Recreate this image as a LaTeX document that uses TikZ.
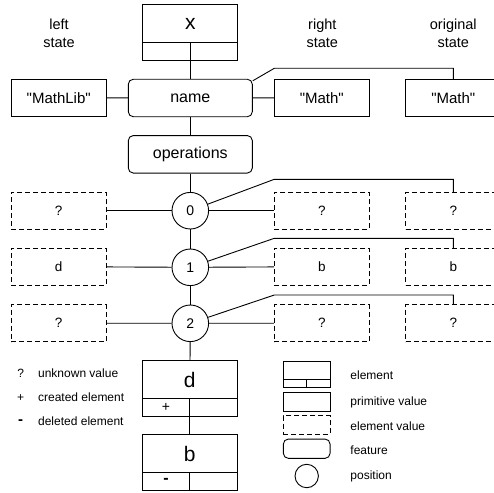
\documentclass[tikz,border=0pt]{standalone}
\usepackage{fontspec}
\setmainfont{Liberation Sans}[Ligatures=TeXOff]
\usetikzlibrary{calc}
\begin{document}
\begin{tikzpicture}[x=1pt,y=-1pt,line width=0.9pt,
  box/.style={draw,minimum width=95pt,minimum height=37pt,inner sep=0pt,font=\fontsize{15}{18}\selectfont},
  dbox/.style={box,dash pattern=on 5pt off 3pt,font=\fontsize{13.5}{16}\selectfont},
  feat/.style={draw,rounded corners=5pt,minimum width=124pt,minimum height=37.5pt,inner sep=0pt,font=\fontsize{16}{19}\selectfont},
  posn/.style={draw,circle,minimum size=36.6pt,inner sep=0pt,font=\fontsize{14}{17}\selectfont},
  elem/.style={draw,minimum width=95pt,minimum height=56pt,inner sep=0pt},
  big/.style={inner sep=0pt,font=\fontsize{21}{24}\selectfont},
  small/.style={inner sep=0pt,font=\fontsize{12}{14}\selectfont},
  head/.style={align=center,inner sep=0pt,font=\fontsize{14.5}{18.5}\selectfont},
  link/.style={draw,line width=0.9pt}
]
\useasboundingbox (0,0) rectangle (494,492);

% headers
\node[head] (hl) at (59,33.5) {left\\state};
\node[head] (hr) at (322.3,33.5) {right\\state};
\node[head] (ho) at (453.3,33.5) {original\\state};

% root element x
\node[elem] (x) at (190.3,32.3) {};
\node[big] (xl) at (190.3,23.5) {x};
\draw ($(x.south west)+(0,-18.3)$) -- ($(x.south east)+(0,-18.3)$);
\draw (x.south) -- ++(0,-18.3);

% name row
\node[feat] (name) at (190.3,98) {name};
\node[box] (ml) at (58.7,97.8) {"MathLib"};
\node[box] (mr) at (321.8,97.8) {"Math"};
\node[box] (mo) at (453.3,97.8) {"Math"};
\coordinate (kn) at (274.3,68.3);
\draw[link] (x.south) -- (name.north);
\draw[link] (ml) -- (name);
\draw[link] (name) -- (mr);
\draw[link] ($(name.north east)+(0,2)$) -- (kn) -| (mo.north);

% operations
\node[feat] (ops) at (190.3,154.3) {operations};
\draw[link] (name) -- (ops);

% positions
\node[posn] (c0) at (190.3,210.7) {0};
\node[posn] (c1) at (190.3,267.3) {1};
\node[posn] (c2) at (190.3,323.3) {2};
\draw[link] (ops) -- (c0);
\draw[link] (c0) -- (c1);
\draw[link] (c1) -- (c2);

\node[dbox] (l0) at (58.7,210.7) {?};
\node[dbox] (r0) at (321.8,210.7) {?};
\node[dbox] (o0) at (453.3,210.7) {?};
\node[dbox] (l1) at (58.7,266.7) {d};
\node[dbox] (r1) at (321.8,266.7) {b};
\node[dbox] (o1) at (453.3,266.7) {b};
\node[dbox] (l2) at (58.7,323.2) {?};
\node[dbox] (r2) at (321.8,323.2) {?};
\node[dbox] (o2) at (453.3,323.2) {?};

\coordinate (k0) at (274.3,179.3);
\coordinate (k1) at (274.3,238.3);
\coordinate (k2) at (274.3,295);
\foreach \i in {0,1,2}{
  \draw[link] (l\i) -- (c\i);
  \draw[link] (c\i) -- (r\i);
  \draw[link] (c\i) -- (k\i) -| (o\i.north);
}

% elements d and b
\node[elem] (ed) at (189.8,388.5) {};
\node[big] (edl) at (189.8,380) {d};
\draw ($(ed.south west)+(0,-18.6)$) -- ($(ed.south east)+(0,-18.6)$);
\draw (ed.south) -- ++(0,-18.6);
\node[inner sep=0pt,font=\fontsize{14}{16}\selectfont] (edp) at (166,407.2) {+};
\node[elem] (eb) at (189.8,462.3) {};
\node[big] (ebl) at (189.8,454) {b};
\draw ($(eb.south west)+(0,-18)$) -- ($(eb.south east)+(0,-18)$);
\draw (eb.south) -- ++(0,-18);
\node[inner sep=0pt,font=\bfseries\fontsize{16}{16}\selectfont] (ebm) at (166,481.3) {-};
\draw[link] (c2) -- (ed);
\draw[link] (ed) -- (eb);

% legend left
\node[small] (q) at (20.7,373.3) {?};
\node[small,anchor=west] (qt) at (37.7,373.3) {unknown value};
\node[small] (p) at (20.7,397.7) {+};
\node[small,anchor=west] (pt) at (37.7,397.7) {created element};
\node[small,font=\bfseries\fontsize{15}{14}\selectfont] (m) at (20.7,421.7) {-};
\node[small,anchor=west] (mt) at (37.7,421.7) {deleted element};

% legend right
\node[draw,minimum width=46.7pt,minimum height=26pt,inner sep=0pt] (le) at (306.7,374.7) {};
\draw ($(le.south west)+(0,-8.4)$) -- ($(le.south east)+(0,-8.4)$);
\draw (le.south) -- ++(0,-8.4);
\node[draw,minimum width=46.7pt,minimum height=18.6pt,inner sep=0pt] (lp) at (306.7,402) {};
\node[draw,dash pattern=on 5pt off 3pt,minimum width=46.7pt,minimum height=18.6pt,inner sep=0pt] (lv) at (306.7,425) {};
\node[draw,rounded corners=5pt,minimum width=46.7pt,minimum height=19.3pt,inner sep=0pt] (lf) at (306.7,448.7) {};
\node[draw,circle,minimum size=23.4pt,inner sep=0pt] (lc) at (306.7,476) {};
\node[small,anchor=west] (let) at (350,375) {element};
\node[small,anchor=west] (lpt) at (350,402.7) {primitive value};
\node[small,anchor=west] (lvt) at (350,426) {element value};
\node[small,anchor=west] (lft) at (350,450) {feature};
\node[small,anchor=west] (lct) at (350,476) {position};
\end{tikzpicture}
\end{document}
